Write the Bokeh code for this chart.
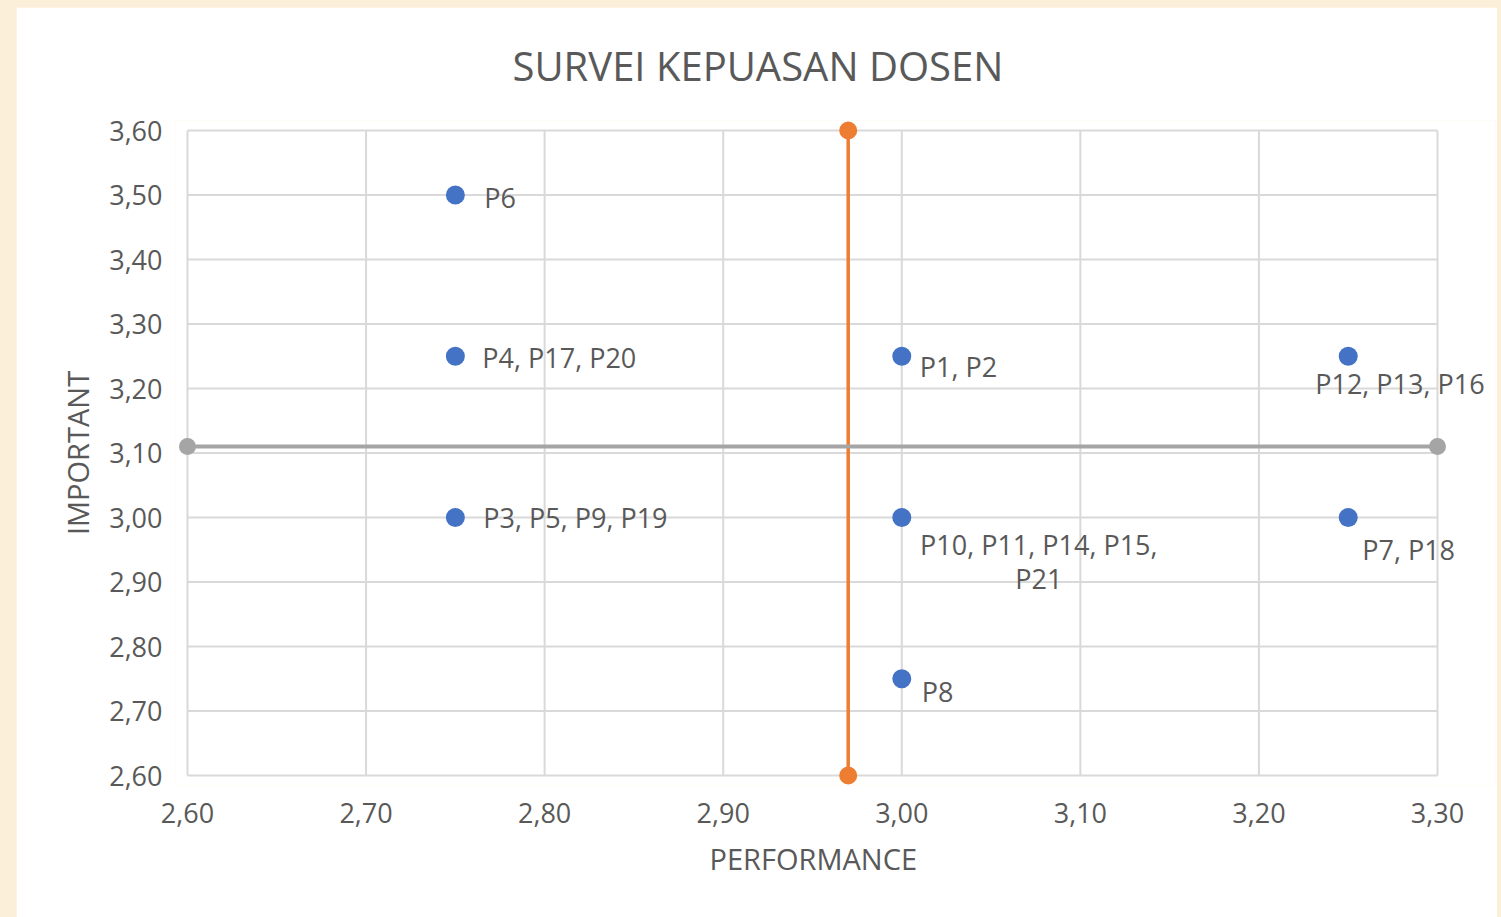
from bokeh.plotting import figure
from bokeh.layouts import column
from bokeh.models import ColumnDataSource, FixedTicker, Range1d, Title
from bokeh.core.properties import value
from bokeh.embed import file_html
from bokeh.resources import INLINE

# ---- data ----
labels = ["P6", "P4, P17, P20", "P3, P5, P9, P19", "P1, P2",
          "P10, P11, P14, P15,\nP21", "P8", "P12, P13, P16", "P7, P18"]
performance = [2.75, 2.75, 2.75, 3.00, 3.00, 3.00, 3.25, 3.25]
important = [3.50, 3.25, 3.00, 3.25, 3.00, 2.75, 3.25, 3.00]

perf_mean = 2.97
imp_mean = 3.11

x_ticks = [2.6, 2.7, 2.8, 2.9, 3.0, 3.1, 3.2, 3.3]
x_tick_labels = ["2,60", "2,70", "2,80", "2,90", "3,00", "3,10", "3,20", "3,30"]
y_ticks = [2.6, 2.7, 2.8, 2.9, 3.0, 3.1, 3.2, 3.3, 3.4, 3.5, 3.6]
y_tick_labels = ["2,60", "2,70", "2,80", "2,90", "3,00", "3,10", "3,20",
                 "3,30", "3,40", "3,50", "3,60"]

# ---- label placement (screen px) ----
label_dx = [29, 27, 28, 18, 137, 20, -33, 14]
label_dy = [2, 1, 0, 10, 44, 13, 27, 32]
label_align = ["left", "left", "left", "left", "center", "left", "left", "left"]

TEXT = "#595959"
GRID = "#D9D9D9"
FONT = "Open Sans"

# padding so that end markers and labels are not clipped by the frame
px_per_x = 1785.7
px_per_y = 645.0
xpad_l = 12 / px_per_x
xpad_r = 58 / px_per_x
ypad = 10 / px_per_y

p = figure(width=1481, height=910, output_backend="svg", toolbar_location=None,
           x_range=Range1d(x_ticks[0] - xpad_l, x_ticks[-1] + xpad_r),
           y_range=Range1d(y_ticks[0] - ypad, y_ticks[-1] + ypad),
           min_border_left=159, min_border_right=2,
           min_border_top=113, min_border_bottom=132)

p.title.text = "SURVEI KEPUASAN DOSEN"
p.title.align = "left"
p.title.offset = 337
p.title.text_font = FONT
p.title.text_font_size = "40px"
p.title.text_font_style = "normal"
p.title.text_color = TEXT
p.title.standoff = 56

p.background_fill_color = "white"
p.border_fill_color = "white"
p.outline_line_color = None

p.xaxis.ticker = FixedTicker(ticks=x_ticks)
p.yaxis.ticker = FixedTicker(ticks=y_ticks)
p.xaxis.major_label_overrides = dict(zip(x_ticks, x_tick_labels))
p.yaxis.major_label_overrides = dict(zip(y_ticks, y_tick_labels))

for ax in (p.xaxis, p.yaxis):
    ax.axis_line_color = None
    ax.major_tick_line_color = None
    ax.minor_tick_line_color = None
    ax.major_label_text_font = FONT
    ax.major_label_text_font_size = "27px"
    ax.major_label_text_color = TEXT
    ax.axis_label_text_font = FONT
    ax.axis_label_text_font_size = "29px"
    ax.axis_label_text_font_style = "normal"
    ax.axis_label_text_color = TEXT

p.yaxis.axis_label = "IMPORTANT"
p.xaxis.major_label_standoff = 11
p.yaxis.major_label_standoff = 7
p.yaxis.axis_label_standoff = 9

# x-axis title, centred under the plotted area (not the padded frame)
xlabel = Title(text="PERFORMANCE", align="left", offset=534, standoff=22,
               text_font=FONT, text_font_size="29px", text_font_style="normal",
               text_color=TEXT)
p.add_layout(xlabel, "below")

p.grid.grid_line_color = None

# grid drawn within the tick extent
nx, ny = len(x_ticks), len(y_ticks)
p.segment(x0=x_ticks, y0=[y_ticks[0]] * nx, x1=x_ticks, y1=[y_ticks[-1]] * nx,
          line_color=GRID, line_width=2)
p.segment(x0=[x_ticks[0]] * ny, y0=y_ticks, x1=[x_ticks[-1]] * ny, y1=y_ticks,
          line_color=GRID, line_width=2)

# mean lines
p.line([perf_mean, perf_mean], [y_ticks[0], y_ticks[-1]], line_color="#ED7D31", line_width=3.5)
p.scatter([perf_mean, perf_mean], [y_ticks[0], y_ticks[-1]], size=18,
          fill_color="#ED7D31", line_color=None)
p.line([x_ticks[0], x_ticks[-1]], [imp_mean, imp_mean], line_color="#A5A5A5", line_width=4)
p.scatter([x_ticks[0], x_ticks[-1]], [imp_mean, imp_mean], size=17,
          fill_color="#A5A5A5", line_color=None)

src = ColumnDataSource(dict(x=performance, y=important, label=labels,
                            dx=label_dx, dy=label_dy, align=label_align))
p.scatter("x", "y", source=src, size=19, fill_color="#4472C4", line_color=None)
p.text("x", "y", text="label", source=src, x_offset="dx", y_offset="dy",
       text_align="align", text_baseline="middle",
       text_font=value(FONT), text_font_size="27px", text_color=TEXT,
       text_line_height=0.93)

page = column(p, styles={"background-color": "#FCEFD9",
                         "padding": "7px 4px 0px 16px"})

open("out.html", "w").write(file_html(page, INLINE))
